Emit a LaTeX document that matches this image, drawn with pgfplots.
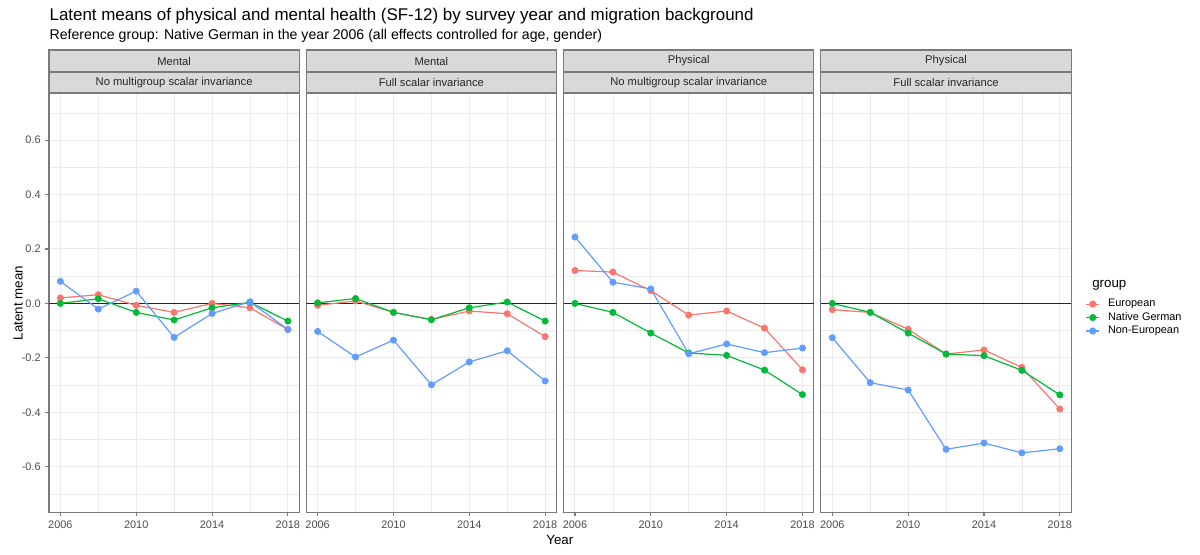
\documentclass[border=0pt]{standalone}
\usepackage{pgfplots}
\pgfplotsset{compat=1.18}
\usepackage{pgfplotstable}
\usepackage{fontspec}
\setmainfont{Liberation Sans}

\definecolor{cEU}{HTML}{F8766D}
\definecolor{cNG}{HTML}{00BA38}
\definecolor{cNE}{HTML}{619CFF}
\definecolor{border}{HTML}{7A7A7A}
\definecolor{grey30}{HTML}{4D4D4D}
\definecolor{grey85}{HTML}{D9D9D9}
\definecolor{grey92}{HTML}{EBEBEB}

% latent means: eu = European, ng = Native German, ne = Non-European
\pgfplotstableread{
year eu ng ne
2006  0.020  0.000  0.081
2008  0.032  0.017 -0.021
2010 -0.007 -0.033  0.045
2012 -0.033 -0.061 -0.125
2014  0.000 -0.016 -0.037
2016 -0.016  0.004  0.006
2018 -0.096 -0.065 -0.096
}\mentalNo
\pgfplotstableread{
year eu ng ne
2006 -0.007  0.002 -0.103
2008  0.009  0.018 -0.197
2010 -0.033 -0.033 -0.135
2012 -0.059 -0.060 -0.299
2014 -0.028 -0.016 -0.215
2016 -0.038  0.005 -0.174
2018 -0.122 -0.065 -0.285
}\mentalFull
\pgfplotstableread{
year eu ng ne
2006  0.121  0.000  0.244
2008  0.115 -0.033  0.078
2010  0.047 -0.109  0.053
2012 -0.043 -0.182 -0.185
2014 -0.028 -0.191 -0.149
2016 -0.091 -0.245 -0.181
2018 -0.244 -0.335 -0.164
}\physNo
\pgfplotstableread{
year eu ng ne
2006 -0.023  0.000 -0.126
2008 -0.033 -0.033 -0.291
2010 -0.095 -0.109 -0.318
2012 -0.186 -0.186 -0.536
2014 -0.171 -0.192 -0.513
2016 -0.235 -0.246 -0.549
2018 -0.388 -0.336 -0.534
}\physFull

\pgfplotsset{
  facet/.style={
    scale only axis, width=187.7pt, height=314.8pt,
    anchor=north west,
    xmin=2005.4, xmax=2018.6, ymin=-0.769, ymax=0.773,
    xtick={2006,2010,2014,2018}, xticklabels={2006,2010,2014,2018},
    minor xtick={2008,2012,2016},
    ytick={-0.6,-0.4,-0.2,0,0.2,0.4,0.6},
    minor ytick={-0.7,-0.5,-0.3,-0.1,0.1,0.3,0.5,0.7},
    grid=both,
    major grid style={grey92, line width=0.75pt},
    minor grid style={grey92, line width=0.4pt},
    axis line style={border, line width=0.8pt},
    tick align=outside, major tick length=2.75pt, minor tick length=0pt,
    tick style={border, line width=0.8pt},
    xtick pos=bottom, ytick pos=left,
    tick label style={font=\fontsize{8.2}{9.6}\selectfont, text=grey30},
    yticklabel style={/pgf/number format/.cd, fixed, fixed zerofill, precision=1, assume math mode=true},
  },
  inner/.style={yticklabels={}, ytick style={draw=none}},
  ln/.style={#1, line width=0.9pt, no marks},
  pt/.style={#1, only marks, mark=*, mark size=2.4pt},
  legend image code/.code={\draw[mark repeat=2,mark phase=2,#1] plot coordinates {(0pt,0pt)(5pt,0pt)(10pt,0pt)};},
}

\newcommand\series[1]{%
  \draw[black!85, line width=0.5pt] (axis cs:2005.4,0) -- (axis cs:2018.6,0);
  \addplot[ln=cEU] table[x=year, y=eu] {#1};
  \addplot[ln=cNG] table[x=year, y=ng] {#1};
  \addplot[ln=cNE] table[x=year, y=ne] {#1};
  \addplot[pt=cEU] table[x=year, y=eu] {#1};
  \addplot[pt=cNG] table[x=year, y=ng] {#1};
  \addplot[pt=cNE] table[x=year, y=ne] {#1};
}

\newcommand\strip[3]{%
  \draw[border, line width=0.8pt, fill=grey85] (#1,-37.5pt) rectangle ++(187.7pt,-16.5pt);
  \draw[border, line width=0.8pt, fill=grey85] (#1,-54pt) rectangle ++(187.7pt,-15.75pt);
  \node[font=\fontsize{8.4}{10}\selectfont, text=black!85] at ([xshift=93.85pt]#1,-45.75pt) {#2};
  \node[font=\fontsize{8.4}{10}\selectfont, text=black!85] at ([xshift=93.85pt]#1,-61.9pt) {#3};
}

\begin{document}
\begin{tikzpicture}
\useasboundingbox (0,0) rectangle (900pt,-415.5pt);

\node[anchor=west, inner sep=0pt, font=\fontsize{12.7}{15}\selectfont] at (37pt,-12pt)
  {Latent means of physical and mental health (SF-12) by survey year and migration background};
\node[anchor=west, inner sep=0pt, font=\fontsize{10.6}{12}\selectfont] at (37pt,-27pt)
  {Reference group: Native German in the year 2006 (all effects controlled for age, gender)};

\begin{axis}[facet, at={(36.75pt,-69.75pt)}]
  \series{\mentalNo}
\end{axis}
\begin{axis}[facet, inner, at={(229.7pt,-69.75pt)}]
  \series{\mentalFull}
\end{axis}
\begin{axis}[facet, inner, at={(422.7pt,-69.75pt)}]
  \series{\physNo}
\end{axis}
\begin{axis}[facet, inner, at={(615.7pt,-69.75pt)},
  legend style={at={(1.04,0.465)}, anchor=west, draw=none, fill=none,
    font=\fontsize{8.2}{9}\selectfont, row sep=-1.2pt,
    nodes={inner xsep=6pt}},
  legend cell align=left]
  \addlegendimage{cEU, line width=0.9pt, mark=*, mark size=2.2pt}
  \addlegendentry{European}
  \addlegendimage{cNG, line width=0.9pt, mark=*, mark size=2.2pt}
  \addlegendentry{Native German}
  \addlegendimage{cNE, line width=0.9pt, mark=*, mark size=2.2pt}
  \addlegendentry{Non-European}
  \series{\physFull}
\end{axis}

\strip{36.75pt}{Mental}{No multigroup scalar invariance}
\strip{229.7pt}{Mental}{Full scalar invariance}
\strip{422.7pt}{Physical}{No multigroup scalar invariance}
\strip{615.7pt}{Physical}{Full scalar invariance}

\node[anchor=west, inner sep=0pt, font=\fontsize{10}{12}\selectfont] at (819pt,-214pt) {group};
\node[font=\fontsize{10}{12}\selectfont] at (419.85pt,-405pt) {Year};
\node[rotate=90, font=\fontsize{10}{12}\selectfont] at (13.5pt,-227.25pt) {Latent mean};
\end{tikzpicture}
\end{document}
